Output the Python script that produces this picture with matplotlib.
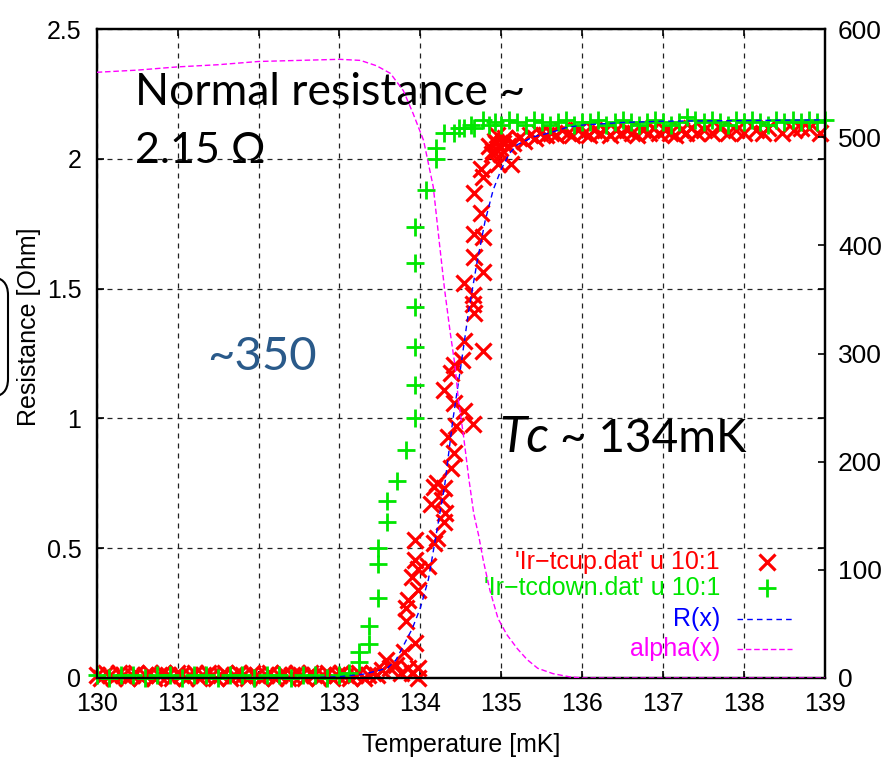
import matplotlib
matplotlib.use("Agg")
import matplotlib.pyplot as plt
from matplotlib.lines import Line2D
from matplotlib.patches import FancyBboxPatch
from matplotlib.transforms import IdentityTransform

# ---------------- data ----------------
x_ticks = [130, 131, 132, 133, 134, 135, 136, 137, 138, 139]
y_ticks = [0, 0.5, 1, 1.5, 2, 2.5]
y_tick_labels = ['0', '0.5', '1', '1.5', '2', '2.5']
y2_ticks = [0, 100, 200, 300, 400, 500, 600]

red_T = [130.00, 130.05, 130.11, 130.16, 130.22, 130.27, 130.33, 130.38, 130.44, 130.49,
         130.55, 130.60, 130.66, 130.71, 130.77, 130.82, 130.88, 130.93, 130.99, 131.04,
         131.10, 131.15, 131.21, 131.26, 131.32, 131.37, 131.43, 131.48, 131.54, 131.59,
         131.65, 131.70, 131.76, 131.81, 131.87, 131.92, 131.98, 132.03, 132.09, 132.14,
         132.20, 132.25, 132.31, 132.36, 132.42, 132.47, 132.53, 132.58, 132.64, 132.69,
         132.75, 132.80, 132.86, 132.91, 132.97, 133.02, 133.08, 133.13, 133.19, 133.24,
         133.30, 133.35, 133.41, 133.46,
         133.52, 133.57, 133.63, 133.70, 133.76, 133.80, 133.85, 133.90, 133.97, 133.97,
         133.94, 133.82, 133.82, 133.85, 133.97, 133.90, 133.97, 133.94, 133.94, 134.09,
         134.17, 134.21, 134.29, 134.31, 134.13, 134.27, 134.17, 134.29, 134.21, 134.38,
         134.41, 134.34, 134.44, 134.65, 134.54, 134.41, 134.29, 134.38, 134.41, 134.52,
         134.77, 134.54, 134.66, 134.65, 134.65, 134.54, 134.77, 134.66, 134.77, 134.66,
         134.75, 134.66, 134.77, 134.75, 134.96, 135.12, 134.90, 134.85, 134.92, 134.98,
         135.02, 134.88, 135.05, 134.95, 135.08, 135.00, 134.93,
         135.15, 135.22, 135.28, 135.35, 135.42, 135.48, 135.55, 135.62, 135.68, 135.75,
         135.82, 135.88, 135.95, 136.02, 136.08, 136.15, 136.22, 136.28, 136.35, 136.42,
         136.48, 136.55, 136.62, 136.68, 136.75, 136.82, 136.88, 136.95, 137.02, 137.08,
         137.15, 137.22, 137.28, 137.35, 137.42, 137.50, 137.60, 137.70, 137.80, 137.90,
         138.00, 138.15, 138.24, 138.30, 138.47, 138.62, 138.71, 138.80, 138.94]
red_R = [0.01, 0.00, 0.02, 0.01, 0.00, 0.02, 0.01, 0.00, 0.01, 0.02,
         0.00, 0.01, 0.02, 0.00, 0.01, 0.02, 0.01, 0.00, 0.02, 0.01,
         0.00, 0.01, 0.02, 0.00, 0.01, 0.02, 0.01, 0.00, 0.01, 0.02,
         0.00, 0.01, 0.02, 0.01, 0.00, 0.02, 0.01, 0.00, 0.01, 0.02,
         0.00, 0.01, 0.02, 0.00, 0.01, 0.02, 0.01, 0.00, 0.02, 0.01,
         0.00, 0.01, 0.02, 0.00, 0.01, 0.02, 0.01, 0.00, 0.01, 0.02,
         0.00, 0.01, 0.02, 0.01,
         0.03, 0.07, 0.04, 0.05, 0.02, 0.10, 0.04, 0.02, 0.00, 0.04,
         0.135, 0.22, 0.27, 0.30, 0.34, 0.39, 0.42, 0.455, 0.53, 0.43,
         0.52, 0.54, 0.60, 0.635, 0.67, 0.685, 0.735, 0.73, 0.75, 0.81,
         0.865, 0.93, 0.97, 0.98, 1.03, 1.06, 1.11, 1.175, 1.205, 1.225,
         1.26, 1.30, 1.405, 1.44, 1.475, 1.52, 1.565, 1.62, 1.70, 1.71,
         1.79, 1.87, 1.93, 1.96, 1.98, 1.98, 2.03, 2.05, 2.07, 2.04,
         2.06, 2.02, 2.08, 2.09, 2.05, 2.02, 2.06,
         2.06, 2.08, 2.07, 2.09, 2.08, 2.10, 2.09, 2.10, 2.09, 2.11,
         2.10, 2.09, 2.11, 2.10, 2.09, 2.11, 2.10, 2.11, 2.09, 2.11,
         2.10, 2.11, 2.10, 2.09, 2.11, 2.10, 2.12, 2.10, 2.11, 2.10,
         2.09, 2.11, 2.10, 2.12, 2.10, 2.11, 2.10, 2.12, 2.10, 2.11,
         2.10, 2.11, 2.10, 2.12, 2.10, 2.11, 2.12, 2.12, 2.10]

green_T = [130.00, 130.15, 130.30, 130.45, 130.60, 130.75, 130.90, 131.05, 131.20, 131.35,
           131.50, 131.65, 131.80, 131.95, 132.10, 132.25, 132.40, 132.55, 132.70, 132.85,
           133.00, 133.12,
           133.24, 133.24, 133.36, 133.36, 133.48, 133.48, 133.48, 133.59, 133.59, 133.71,
           133.82, 133.94, 133.94, 133.94, 133.94, 133.94, 133.94, 134.07, 134.19, 134.19,
           134.29, 134.41,
           134.48, 134.54, 134.62, 134.66, 134.77, 134.85, 134.92, 135.00, 135.10, 135.20,
           135.30, 135.40, 135.50, 135.60, 135.70, 135.80, 135.90, 136.00, 136.10, 136.20,
           136.30, 136.40, 136.50, 136.60, 136.70, 136.80, 136.90, 137.00, 137.10, 137.20,
           137.30, 137.40, 137.50, 137.60, 137.70, 137.80, 137.90, 138.00, 138.10, 138.20,
           138.30, 138.40, 138.50, 138.60, 138.70, 138.80, 138.90, 139.00]
green_R = [0.01, 0.00, 0.01, 0.01, 0.00, 0.01, 0.01, 0.00, 0.01, 0.01,
           0.00, 0.01, 0.01, 0.00, 0.01, 0.01, 0.00, 0.01, 0.01, 0.00,
           0.01, 0.02,
           0.06, 0.10, 0.13, 0.20, 0.31, 0.44, 0.50, 0.60, 0.68, 0.76,
           0.88, 1.00, 1.13, 1.275, 1.43, 1.60, 1.737, 1.88, 2.00, 2.04,
           2.10, 2.10,
           2.12, 2.12, 2.13, 2.12, 2.15, 2.13, 2.14, 2.13, 2.15, 2.14,
           2.13, 2.15, 2.14, 2.13, 2.14, 2.15, 2.13, 2.14, 2.14, 2.15,
           2.13, 2.14, 2.15, 2.14, 2.13, 2.14, 2.15, 2.14, 2.13, 2.14,
           2.16, 2.15, 2.14, 2.15, 2.14, 2.13, 2.15, 2.14, 2.15, 2.14,
           2.13, 2.15, 2.14, 2.15, 2.14, 2.15, 2.14, 2.15]

fit_T = [130.0, 132.5, 133.0, 133.3, 133.5, 133.6, 133.7, 133.8, 133.9, 134.0,
         134.1, 134.2, 134.3, 134.4, 134.5, 134.6, 134.7, 134.8, 134.9, 135.0,
         135.1, 135.2, 135.4, 135.6, 135.8, 136.0, 136.5, 137.0, 139.0]
fit_R = [0.0, 0.0, 0.005, 0.015, 0.03, 0.04, 0.07, 0.13, 0.19, 0.27,
         0.38, 0.56, 0.74, 0.99, 1.20, 1.42, 1.60, 1.76, 1.88, 1.96,
         2.02, 2.055, 2.085, 2.10, 2.12, 2.13, 2.14, 2.145, 2.15]

alpha_T = [130.0, 130.5, 131.0, 131.5, 132.0, 132.5, 133.0, 133.26, 133.46, 133.63,
           133.79, 133.91, 134.04, 134.16, 134.24, 134.30, 134.37, 134.43, 134.47, 134.53,
           134.60, 134.66, 134.72, 134.78, 134.86, 134.96, 135.07, 135.20, 135.32, 135.45,
           135.64, 135.85, 136.0, 139.0]
alpha_V = [560, 562, 565, 567, 570, 571, 572, 571, 566, 559,
           543, 522, 497, 454, 399, 359, 319, 288, 257, 226,
           184, 152, 132, 108, 81, 55, 40, 27, 17, 9,
           4, 1, 0, 0]

legend_labels = ["'Ir\u2212tcup.dat' u 10:1", "'Ir\u2212tcdown.dat' u 10:1", "R(x)", "alpha(x)"]

# ---------------- style ----------------
gp_font = ['Liberation Sans', 'DejaVu Sans']
ann_font = ['Lato', 'DejaVu Sans']
plt.rcParams['font.family'] = gp_font

RED = '#ff0000'
GREEN = '#00e600'
BLUE = '#0000ff'
MAG = '#ff00ff'

fig = plt.figure(figsize=(8.87, 7.60), dpi=100)
ax = fig.add_axes([0.109, 0.1079, 0.821, 0.8539])
ax2 = ax.twinx()

ax.set_xlim(130, 139)
ax.set_ylim(0, 2.5)
ax2.set_ylim(0, 600)
ax.set_xticks(x_ticks)
ax.set_yticks(y_ticks)
ax.set_yticklabels(y_tick_labels)
ax2.set_yticks(y2_ticks)

ax.grid(True, color='#222222', linestyle=(0, (4, 4)), linewidth=0.9)
for a in (ax, ax2):
    for s in a.spines.values():
        s.set_linewidth(1.6)
ax.tick_params(direction='in', length=5, width=1.2, top=True, right=True,
               labelsize=18, pad=11, colors='black')
ax.tick_params(axis='x', pad=10)
ax2.tick_params(direction='in', length=5, width=1.2, labelsize=19, pad=9.5)

# data marks
ax.plot(red_T, red_R, linestyle='none', marker='x', markersize=12, markeredgewidth=2.3,
        color=RED, zorder=3, clip_on=False)
ax.plot(green_T, green_R, linestyle='none', marker='+', markersize=12.5, markeredgewidth=2.0,
        color=GREEN, zorder=3, clip_on=False)
ax.plot(fit_T, fit_R, color=BLUE, linewidth=1.0, linestyle=(0, (4, 3)), zorder=4)
ax2.plot(alpha_T, alpha_V, color=MAG, linewidth=1.0, linestyle=(0, (4, 2)), zorder=4)

ax.set_xlabel('Temperature [mK]', fontsize=18)
ax.xaxis.set_label_coords(0.5, -0.085)
ax.set_ylabel('Resistance [Ohm]', fontsize=18)
ax.yaxis.set_label_coords(-0.0758, 0.541)

# legend (manual, gnuplot-style)
tx = ax.transAxes
rows = [0.179, 0.139, 0.091, 0.045]
cols = [RED, GREEN, BLUE, MAG]
for lab, yy, c in zip(legend_labels, rows, cols):
    ax.text(0.856, yy, lab, transform=tx, ha='right', va='center', color=c, fontsize=18, zorder=6)
ax.add_line(Line2D([0.920], [rows[0]], transform=tx, marker='x', markersize=12,
                   markeredgewidth=2.3, color=RED, linestyle='none', zorder=6))
ax.add_line(Line2D([0.920], [rows[1]], transform=tx, marker='+', markersize=12.5,
                   markeredgewidth=2.0, color=GREEN, linestyle='none', zorder=6))
ax.add_line(Line2D([0.879, 0.955], [rows[2], rows[2]], transform=tx, color=BLUE,
                   linewidth=1.0, linestyle=(0, (4, 3)), zorder=6))
ax.add_line(Line2D([0.879, 0.955], [rows[3], rows[3]], transform=tx, color=MAG,
                   linewidth=1.0, linestyle=(0, (4, 2)), zorder=6))

# annotations
ax.text(130.47, 2.207, 'Normal resistance ~', family=ann_font, fontsize=32,
        va='baseline', ha='left', color='black', zorder=7)
ax.text(130.47, 1.984, '2.15 \u03a9', family=ann_font, fontsize=31,
        va='baseline', ha='left', color='black', zorder=7)
ax.text(131.37, 1.186, '~350', family=ann_font, fontsize=34,
        va='baseline', ha='left', color='#2a5a8a', zorder=7)
ax.text(134.98, 0.871, 'Tc', family=ann_font, fontsize=36, style='italic',
        va='baseline', ha='left', color='black', zorder=7)
ax.text(135.72, 0.871, '~ 134mK', family=ann_font, fontsize=33,
        va='baseline', ha='left', color='black', zorder=7)

# partial rounded box at left edge
box = FancyBboxPatch((-60, 363), 68, 120, boxstyle='round,pad=0,rounding_size=18',
                     transform=IdentityTransform(), facecolor='none', edgecolor='black',
                     linewidth=1.5)
fig.add_artist(box)

fig.savefig('out.png', dpi=100)
